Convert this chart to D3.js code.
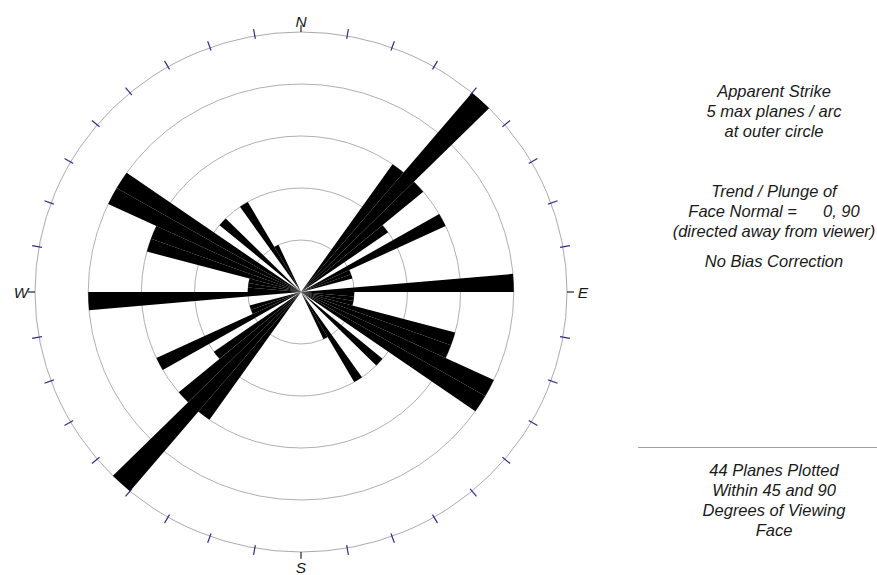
<!DOCTYPE html>
<html>
<head>
<meta charset="utf-8">
<script src="https://cdn.jsdelivr.net/npm/d3@7"></script>
<style>
  html, body { margin: 0; padding: 0; background: #fff; }
  svg { display: block; }
  text { font-family: "Liberation Sans", Arial, sans-serif; font-style: italic; fill: #1a1a1a; }
</style>
</head>
<body>
<svg id="chart" width="877" height="575"></svg>
<script>
// Rose diagram of apparent strike, 5-degree arcs, bidirectional
const binWidth = 5;
const binStarts   = [35, 40, 45, 50, 60, 65, 70, 85, 90, 95, 100, 105, 110, 115, 120, 130, 145, 150];
const planeCounts = [ 3,  5,  3,  2,  3,  1,  1,  4,  1,  1,   1,   3,   3,   4,   4,   2,   2,   1];
const maxPlanes = 5;
const ringLevels = [1, 2, 3, 4, 5];
const tickAngles = d3.range(0, 360, 10);
const cardinals = [
  { label: "N", angle: 0 },
  { label: "E", angle: 90 },
  { label: "S", angle: 180 },
  { label: "W", angle: 270 }
];
const infoTop = [
  "Apparent Strike",
  "5 max planes / arc",
  "at outer circle"
];
const infoMid = ["Trend / Plunge of"];
const infoTail = ["(directed away from viewer)"];
const infoBias = ["No Bias Correction"];
const infoBottom = [
  "44 Planes Plotted",
  "Within 45 and 90",
  "Degrees of Viewing",
  "Face"
];

const svg = d3.select("#chart");
const cx = 301, cy = 292;
const rx = 266, ry = 260;
const rad = d => d * Math.PI / 180;

const r = d3.scaleLinear().domain([0, maxPlanes]).range([0, rx]);

const g = svg.append("g")
  .attr("transform", `translate(${cx},${cy}) scale(1,${ry / rx})`);

// concentric rings
g.selectAll("circle.ring")
  .data(ringLevels)
  .join("circle")
  .attr("class", "ring")
  .attr("r", d => r(d))
  .attr("fill", "none")
  .attr("stroke", d => d === maxPlanes ? "#a9a9b4" : "#b0b0b0")
  .attr("stroke-width", 1)
  .attr("vector-effect", "non-scaling-stroke");

// petals: each strike arc is drawn on both ends
const petals = [];
binStarts.forEach((s, i) => {
  petals.push({ start: s, count: planeCounts[i] });
  petals.push({ start: s + 180, count: planeCounts[i] });
});
const arc = d3.arc()
  .innerRadius(0)
  .outerRadius(d => r(d.count))
  .startAngle(d => rad(d.start))
  .endAngle(d => rad(d.start + binWidth));

g.selectAll("path.petal")
  .data(petals)
  .join("path")
  .attr("class", "petal")
  .attr("d", arc)
  .attr("fill", "#000");

// 10-degree ticks on the outer circle
const R = r(maxPlanes);
g.selectAll("line.tick")
  .data(tickAngles.filter(a => a % 90 !== 0))
  .join("line")
  .attr("class", "tick")
  .attr("x1", a => Math.sin(rad(a)) * (R - 3))
  .attr("y1", a => -Math.cos(rad(a)) * (R - 3))
  .attr("x2", a => Math.sin(rad(a)) * (R + 7))
  .attr("y2", a => -Math.cos(rad(a)) * (R + 7))
  .attr("stroke", "#2e2e8a")
  .attr("stroke-width", 1.2)
  .attr("vector-effect", "non-scaling-stroke");

// cardinal marks
g.selectAll("line.card")
  .data(cardinals)
  .join("line")
  .attr("class", "card")
  .attr("x1", d => Math.sin(rad(d.angle)) * R)
  .attr("y1", d => -Math.cos(rad(d.angle)) * R)
  .attr("x2", d => Math.sin(rad(d.angle)) * (R + 7))
  .attr("y2", d => -Math.cos(rad(d.angle)) * (R + 7))
  .attr("stroke", "#222")
  .attr("stroke-width", 1.2)
  .attr("vector-effect", "non-scaling-stroke");

const cardPos = {
  N: [301, 27],
  E: [583, 298],
  S: [301, 573],
  W: [21, 298]
};
svg.selectAll("text.card")
  .data(cardinals)
  .join("text")
  .attr("class", "card")
  .attr("x", d => cardPos[d.label][0])
  .attr("y", d => cardPos[d.label][1])
  .attr("text-anchor", "middle")
  .attr("font-size", 15.5)
  .text(d => d.label);

// descriptive text on the right
const tx = 774;
const fs = 16.5;
function block(lines, y0) {
  svg.append("g").selectAll("text")
    .data(lines)
    .join("text")
    .attr("x", tx)
    .attr("y", (d, i) => y0 + i * 20)
    .attr("text-anchor", "middle")
    .attr("font-size", fs)
    .text(d => d);
}
block(infoTop, 97);
block(infoMid, 197);
const fn = svg.append("text")
  .attr("x", tx)
  .attr("y", 217)
  .attr("text-anchor", "middle")
  .attr("font-size", fs);
fn.append("tspan").text("Face Normal =");
fn.append("tspan").attr("dx", 26).text("0, 90");
block(infoTail, 237);
block(infoBias, 267);

svg.append("line")
  .attr("x1", 638).attr("x2", 877)
  .attr("y1", 447.5).attr("y2", 447.5)
  .attr("stroke", "#a0a0a0")
  .attr("stroke-width", 1);

block(infoBottom, 476);
</script>
</body>
</html>
